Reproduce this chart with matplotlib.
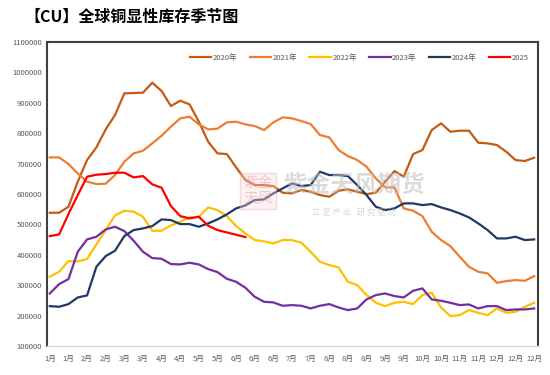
import matplotlib
matplotlib.use("Agg")
import matplotlib.pyplot as plt

plt.rcParams['font.family'] = ['Noto Sans CJK SC', 'DejaVu Sans']

# weekly inventory, 53 points per year
weeks = list(range(53))
tick_labels = ["1月", "1月", "2月", "2月", "3月", "3月", "4月", "4月", "5月", "5月",
               "6月", "6月", "6月", "7月", "7月", "8月", "8月", "8月", "9月", "9月",
               "10月", "10月", "11月", "11月", "12月", "12月", "12月"]

y2020 = [538600, 538600, 558300, 640600, 711850, 753500, 812700, 859900, 931150, 932250,
         933350, 966200, 938800, 889500, 907000, 895000, 837950, 772100, 733800, 731600,
         687700, 646100, 629600, 629600, 626300, 604400, 602200, 613200, 607700, 596700,
         591200, 611000, 615350, 607700, 600000, 604400, 640600, 675700, 657000, 731600,
         744750, 810500, 832500, 805000, 808350, 808350, 768900, 766700, 761200, 739300,
         711850, 708600, 719500]
y2021 = [720600, 720600, 698700, 668000, 640600, 632900, 634000, 662500, 706400, 733800,
         742550, 766700, 791900, 821500, 848900, 854400, 829200, 812700, 814900, 835750,
         837950, 829200, 823700, 810500, 835750, 852200, 848900, 840150, 830300, 794100,
         786400, 744750, 725000, 711850, 689900, 651550, 621900, 621900, 552900, 545200,
         527600, 476100, 448700, 428950, 393900, 361000, 344500, 339000, 308300, 313800,
         317100, 314900, 330250]
y2022 = [328100, 344500, 379600, 378500, 386200, 434450, 481600, 529800, 545200, 541900,
         525400, 479400, 479400, 496900, 509000, 523250, 525400, 556150, 547400, 527600,
         494700, 470600, 448700, 444300, 437700, 448700, 448700, 439900, 410300, 377400,
         366450, 358800, 311600, 300700, 267800, 242550, 231600, 242550, 245850, 238150,
         267800, 275400, 227200, 198700, 202000, 218400, 209650, 202000, 223900, 209650,
         212950, 229400, 242550]
y2023 = [273250, 303950, 320400, 410300, 450900, 459650, 483700, 492550, 478300, 446500,
         410300, 389500, 387300, 369700, 368650, 374100, 368650, 353300, 343400, 321500,
         311600, 291900, 262300, 245850, 243650, 232700, 234900, 232700, 223900, 232700,
         238150, 227200, 218400, 223900, 253500, 267800, 273250, 264500, 260100, 282000,
         289700, 253500, 249100, 242550, 234900, 237100, 223900, 231600, 231600, 218400,
         220600, 220600, 223900]
y2024 = [231600, 229400, 238150, 260100, 266700, 361000, 396050, 413600, 461850, 481600,
         487100, 494750, 516700, 514500, 501300, 501300, 492550, 503500, 516700, 533100,
         552900, 562700, 580300, 582450, 602200, 618650, 635100, 626300, 629600, 673500,
         662500, 662500, 659200, 629600, 596700, 558300, 547400, 552900, 569300, 569300,
         563800, 567100, 556150, 547400, 536400, 523250, 503500, 481600, 454200, 454200,
         459650, 448700, 450900]
y2025 = [461850, 467350, 534200, 596700, 657000, 663600, 665800, 670200, 670200, 654800,
         659200, 631800, 620850, 560500, 527600, 519950, 525400, 495800, 481600, 473900,
         466250, 458550]

series = [
    ("2020年", y2020, "#C55A11"),
    ("2021年", y2021, "#ED7D31"),
    ("2022年", y2022, "#FFC000"),
    ("2023年", y2023, "#7030A0"),
    ("2024年", y2024, "#1F3864"),
    ("2025", y2025, "#FF0000"),
]

fig = plt.figure(figsize=(5.5, 3.75), dpi=100)
ax = fig.add_axes([0.0855, 0.077, 0.8925, 0.811])

# watermark first so lines sit above it
ax.text(0.625, 0.53, "紫金天风期货", transform=ax.transAxes, fontsize=17,
        color='#BFBFBF', alpha=0.55, ha='center', va='center', fontweight='bold')
ax.text(0.625, 0.44, "立 足 产 业   研 究 驱 动", transform=ax.transAxes, fontsize=6,
        color='#BFBFBF', alpha=0.6, ha='center', va='center')
ax.text(0.43, 0.51, "紫金\n天风", transform=ax.transAxes, fontsize=10.5,
        color='#E09090', alpha=0.45, ha='center', va='center', linespacing=1.1,
        bbox=dict(boxstyle='square,pad=0.25', fc='#F7DADA', ec='#E6A0A0', alpha=0.35))

for name, vals, color in series:
    ax.plot(weeks[:len(vals)], vals, color=color, lw=1.6, label=name)

ax.set_xlim(-0.3, 52.4)
ax.set_ylim(100000, 1100000)
ax.set_yticks(range(100000, 1100001, 100000))
ax.set_yticklabels([str(v) for v in range(100000, 1100001, 100000)])
ax.set_xticks(weeks[::2])
ax.set_xticklabels(tick_labels)
ax.tick_params(axis='both', length=0, labelsize=5.5, colors='#595959')
ax.tick_params(axis='x', pad=6)

for side in ['left', 'top', 'right']:
    ax.spines[side].set_color('#404040')
    ax.spines[side].set_linewidth(1.5)
ax.spines['bottom'].set_color('#D9D9D9')
ax.spines['bottom'].set_linewidth(1)

ax.legend(loc='center right', bbox_to_anchor=(0.995, 0.947), ncol=6, frameon=False,
          fontsize=5.5, handlelength=2.8, columnspacing=1.6, handletextpad=0.2,
          labelcolor='#595959')

fig.text(0.045, 0.955, "【CU】全球铜显性库存季节图", fontsize=11.5, fontweight='bold',
         color='black', ha='left', va='center')

fig.savefig("out.png", dpi=100)
